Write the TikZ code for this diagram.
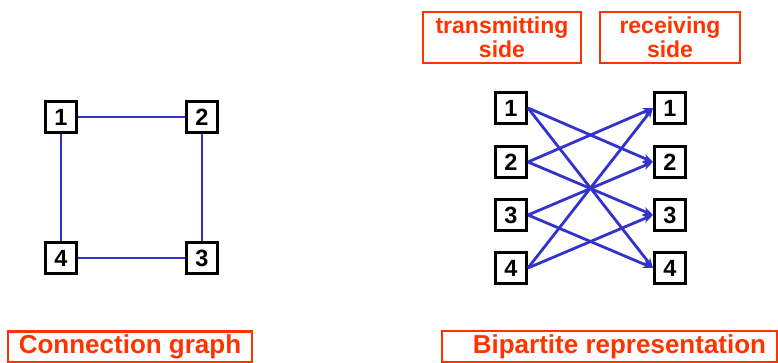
\documentclass[tikz,border=0pt]{standalone}
\usepackage{fontspec}
\setmainfont{Liberation Sans}
\usetikzlibrary{arrows.meta}
\definecolor{edgeblue}{RGB}{51,51,204}
\definecolor{labred}{RGB}{255,51,0}
\tikzset{
  vbox/.style={draw=black, line width=3pt, fill=white, minimum size=31pt, inner sep=0pt,
    font=\fontsize{23.5}{23.5}\selectfont\bfseries},
  edge/.style={draw=edgeblue, line width=2.8pt},
  arc/.style={edge, -{Stealth[length=10pt,width=8pt]}},
  labelbox/.style={draw=labred, line width=2.4pt, text=labred, inner sep=0pt, align=center},
  toplabel/.style={labelbox, font=\fontsize{23}{24}\selectfont\bfseries, minimum height=51pt},
  botlabel/.style={labelbox, font=\fontsize{26}{26}\selectfont\bfseries, minimum height=31pt}
}
\begin{document}
\begin{tikzpicture}[x=1pt,y=-1pt]
\useasboundingbox (0,0) rectangle (778,363);
% connection graph
\node[vbox] (g1) at (61,117) {1};
\node[vbox] (g2) at (202,117) {2};
\node[vbox] (g3) at (202,258) {3};
\node[vbox] (g4) at (61,258) {4};
\draw[edge] (g1) -- (g2);
\draw[edge] (g2) -- (g3);
\draw[edge] (g3) -- (g4);
\draw[edge] (g4) -- (g1);
% bipartite
\node[vbox] (t1) at (511,108) {1};
\node[vbox] (t2) at (511,162) {2};
\node[vbox] (t3) at (511,215) {3};
\node[vbox] (t4) at (511,268) {4};
\node[vbox] (r1) at (670,108) {1};
\node[vbox] (r2) at (670,162) {2};
\node[vbox] (r3) at (670,215) {3};
\node[vbox] (r4) at (670,268) {4};
\draw[arc] (t1.east) -- (r2.west);
\draw[arc] (t1.east) -- (r4.west);
\draw[arc] (t2.east) -- (r1.west);
\draw[arc] (t2.east) -- (r3.west);
\draw[arc] (t3.east) -- (r2.west);
\draw[arc] (t3.east) -- (r4.west);
\draw[arc] (t4.east) -- (r1.west);
\draw[arc] (t4.east) -- (r3.west);
% labels
\node[toplabel, minimum width=158pt] (tx) at (502,37.5) {\raisebox{-2pt}{transmitting}\\\raisebox{-2pt}{side}};
\node[toplabel, minimum width=140pt] (rx) at (670,37.5) {\raisebox{-2pt}{receiving}\\\raisebox{-2pt}{side}};
\node[botlabel, minimum width=244pt] (cg) at (130,347) {Connection graph};
\node[botlabel, minimum width=335pt] (bp) at (609.5,346.5) {\hspace{20pt}Bipartite representation};
\end{tikzpicture}
\end{document}
